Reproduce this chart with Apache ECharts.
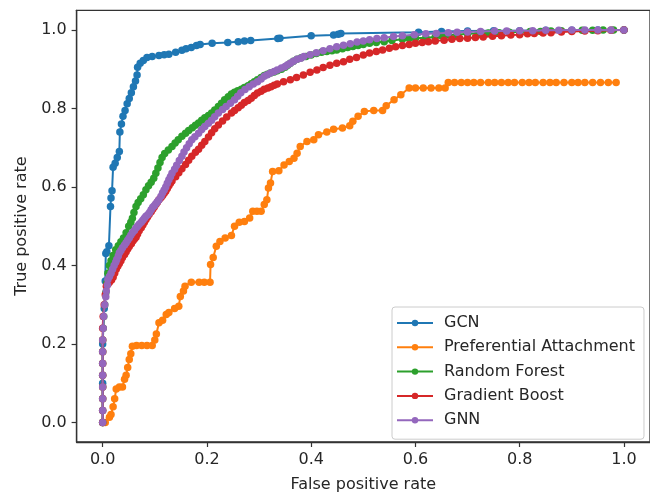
<!DOCTYPE html>
<html>
<head>
<meta charset="utf-8">
<script src="https://cdn.jsdelivr.net/npm/echarts@6/dist/echarts.min.js"></script>
<style>
html,body{margin:0;padding:0;background:#fff;}
#chart{width:650px;height:498px;}
</style>
</head>
<body>
<div id="chart"></div>
<script>
var seriesNames = ['GCN', 'Preferential Attachment', 'Random Forest', 'Gradient Boost', 'GNN'];
var xTicks = [0, 0.2, 0.4, 0.6, 0.8, 1.0];
var yTicks = [0, 0.2, 0.4, 0.6, 0.8, 1.0];
var xLabel = 'False positive rate';
var yLabel = 'True positive rate';

var gcn = [[0,0],[0,0.1],[0,0.2],[0.003,0.29],[0.005,0.36],[0.006,0.43],[0.008,0.435],[0.012,0.45],[0.015,0.55],[0.016,0.572],[0.018,0.59],[0.02,0.65],[0.024,0.66],[0.028,0.675],[0.032,0.69],[0.033,0.74],[0.036,0.76],[0.039,0.78],[0.043,0.795],[0.047,0.812],[0.051,0.825],[0.055,0.84],[0.059,0.855],[0.063,0.87],[0.066,0.885],[0.067,0.905],[0.072,0.915],[0.078,0.922],[0.085,0.93],[0.095,0.932],[0.108,0.935],[0.118,0.937],[0.127,0.938],[0.14,0.943],[0.152,0.948],[0.16,0.952],[0.17,0.955],[0.18,0.96],[0.187,0.963],[0.21,0.966],[0.24,0.968],[0.26,0.97],[0.272,0.972],[0.284,0.973],[0.336,0.978],[0.34,0.979],[0.4,0.985],[0.443,0.987],[0.452,0.989],[0.457,0.991],[0.606,0.994],[0.65,0.996],[0.7,0.997],[0.75,0.998],[0.8,0.998],[0.85,0.999],[0.9,0.999],[0.95,1.0],[1.0,1.0]];

var pa = [[0,0],[0.005,0],[0.013,0.013],[0.016,0.02],[0.02,0.04],[0.023,0.06],[0.026,0.085],[0.032,0.09],[0.038,0.09],[0.042,0.11],[0.045,0.12],[0.048,0.14],[0.051,0.16],[0.054,0.175],[0.057,0.194],[0.065,0.196],[0.075,0.196],[0.085,0.196],[0.095,0.196],[0.1,0.21],[0.103,0.225],[0.108,0.254],[0.115,0.26],[0.122,0.275],[0.127,0.28],[0.138,0.29],[0.146,0.296],[0.149,0.321],[0.155,0.335],[0.158,0.347],[0.17,0.357],[0.185,0.357],[0.195,0.357],[0.206,0.357],[0.207,0.402],[0.212,0.42],[0.218,0.449],[0.225,0.461],[0.235,0.47],[0.247,0.476],[0.253,0.5],[0.262,0.51],[0.272,0.512],[0.282,0.521],[0.288,0.538],[0.296,0.538],[0.304,0.538],[0.31,0.555],[0.315,0.567],[0.318,0.597],[0.322,0.61],[0.326,0.639],[0.338,0.641],[0.348,0.656],[0.358,0.665],[0.367,0.673],[0.373,0.686],[0.379,0.703],[0.392,0.716],[0.405,0.72],[0.414,0.733],[0.43,0.74],[0.443,0.747],[0.46,0.75],[0.474,0.756],[0.48,0.767],[0.49,0.78],[0.502,0.792],[0.52,0.795],[0.537,0.795],[0.544,0.807],[0.559,0.822],[0.572,0.835],[0.588,0.852],[0.6,0.852],[0.615,0.852],[0.63,0.852],[0.645,0.852],[0.657,0.852],[0.663,0.866],[0.675,0.866],[0.688,0.866],[0.7,0.866],[0.712,0.866],[0.725,0.866],[0.74,0.866],[0.752,0.866],[0.765,0.866],[0.778,0.866],[0.79,0.866],[0.805,0.866],[0.818,0.866],[0.83,0.866],[0.845,0.866],[0.858,0.866],[0.87,0.866],[0.885,0.866],[0.9,0.866],[0.912,0.866],[0.925,0.866],[0.94,0.866],[0.955,0.866],[0.97,0.866],[0.985,0.866]];

var rf = [[0,0],[0,0.03],[0,0.06],[0,0.09],[0,0.12],[0,0.15],[0,0.18],[0,0.21],[0.001,0.24],[0.002,0.27],[0.004,0.3],[0.006,0.33],[0.008,0.355],[0.01,0.38],[0.013,0.4],[0.016,0.412],[0.02,0.425],[0.025,0.44],[0.03,0.45],[0.035,0.46],[0.04,0.47],[0.045,0.483],[0.05,0.5],[0.054,0.51],[0.057,0.52],[0.06,0.535],[0.064,0.55],[0.068,0.56],[0.073,0.57],[0.078,0.58],[0.083,0.593],[0.088,0.603],[0.093,0.612],[0.098,0.622],[0.102,0.635],[0.106,0.648],[0.11,0.662],[0.114,0.675],[0.119,0.685],[0.126,0.694],[0.133,0.703],[0.139,0.712],[0.145,0.72],[0.152,0.729],[0.159,0.737],[0.165,0.744],[0.172,0.751],[0.178,0.757],[0.184,0.763],[0.19,0.77],[0.196,0.776],[0.203,0.782],[0.209,0.788],[0.215,0.796],[0.222,0.805],[0.228,0.813],[0.234,0.822],[0.241,0.83],[0.247,0.837],[0.253,0.841],[0.259,0.845],[0.266,0.849],[0.272,0.853],[0.279,0.858],[0.285,0.863],[0.291,0.868],[0.297,0.873],[0.304,0.879],[0.31,0.884],[0.316,0.887],[0.322,0.89],[0.329,0.893],[0.335,0.896],[0.343,0.9],[0.35,0.905],[0.355,0.91],[0.36,0.915],[0.366,0.92],[0.373,0.925],[0.381,0.929],[0.39,0.932],[0.4,0.936],[0.41,0.94],[0.42,0.943],[0.43,0.945],[0.44,0.947],[0.449,0.949],[0.46,0.952],[0.47,0.955],[0.48,0.958],[0.49,0.96],[0.5,0.963],[0.512,0.966],[0.525,0.968],[0.54,0.97],[0.555,0.973],[0.575,0.976],[0.588,0.978],[0.6,0.979],[0.62,0.98],[0.638,0.982],[0.65,0.985],[0.663,0.987],[0.68,0.988],[0.7,0.99],[0.72,0.991],[0.74,0.992],[0.76,0.993],[0.78,0.994],[0.8,0.995],[0.82,0.996],[0.84,0.996],[0.86,0.997],[0.88,0.998],[0.9,0.998],[0.92,0.999],[0.94,0.999],[0.96,1.0],[0.98,1.0],[1.0,1.0]];

var gb = [[0,0],[0,0.03],[0,0.06],[0,0.09],[0,0.12],[0,0.15],[0,0.18],[0,0.21],[0,0.24],[0.001,0.27],[0.003,0.3],[0.005,0.325],[0.007,0.347],[0.01,0.352],[0.013,0.357],[0.017,0.363],[0.02,0.37],[0.023,0.38],[0.026,0.39],[0.029,0.398],[0.032,0.405],[0.035,0.412],[0.038,0.42],[0.042,0.428],[0.045,0.435],[0.048,0.442],[0.051,0.448],[0.055,0.455],[0.058,0.462],[0.061,0.467],[0.064,0.472],[0.067,0.48],[0.07,0.488],[0.074,0.496],[0.077,0.503],[0.08,0.51],[0.083,0.517],[0.086,0.523],[0.089,0.53],[0.093,0.537],[0.096,0.543],[0.099,0.549],[0.102,0.555],[0.105,0.561],[0.108,0.567],[0.112,0.573],[0.115,0.578],[0.118,0.584],[0.121,0.589],[0.124,0.596],[0.127,0.603],[0.13,0.609],[0.133,0.615],[0.14,0.626],[0.146,0.636],[0.152,0.646],[0.159,0.657],[0.165,0.668],[0.171,0.678],[0.178,0.688],[0.184,0.696],[0.19,0.706],[0.196,0.716],[0.203,0.727],[0.209,0.738],[0.215,0.748],[0.222,0.758],[0.23,0.768],[0.238,0.778],[0.247,0.788],[0.253,0.795],[0.26,0.802],[0.266,0.808],[0.272,0.815],[0.279,0.82],[0.285,0.826],[0.291,0.833],[0.297,0.839],[0.304,0.844],[0.31,0.849],[0.317,0.852],[0.323,0.855],[0.329,0.859],[0.335,0.862],[0.347,0.868],[0.36,0.873],[0.372,0.879],[0.385,0.885],[0.398,0.892],[0.411,0.898],[0.423,0.904],[0.436,0.91],[0.449,0.915],[0.462,0.919],[0.474,0.925],[0.487,0.93],[0.5,0.936],[0.512,0.941],[0.525,0.945],[0.537,0.949],[0.55,0.953],[0.562,0.957],[0.575,0.96],[0.588,0.963],[0.6,0.966],[0.613,0.968],[0.625,0.97],[0.638,0.972],[0.655,0.974],[0.67,0.976],[0.685,0.978],[0.7,0.979],[0.715,0.981],[0.73,0.982],[0.748,0.984],[0.765,0.985],[0.783,0.987],[0.8,0.988],[0.815,0.99],[0.828,0.991],[0.845,0.992],[0.86,0.993],[0.88,0.995],[0.9,0.996],[0.925,0.997],[0.95,0.998],[0.975,0.999],[1.0,1.0]];

var gnn = [[0,0],[0,0.03],[0,0.06],[0,0.09],[0,0.12],[0,0.15],[0,0.18],[0,0.21],[0.001,0.24],[0.002,0.27],[0.004,0.3],[0.006,0.32],[0.007,0.335],[0.009,0.35],[0.01,0.364],[0.013,0.372],[0.016,0.38],[0.019,0.39],[0.022,0.4],[0.025,0.408],[0.027,0.415],[0.03,0.424],[0.032,0.432],[0.035,0.438],[0.038,0.445],[0.042,0.452],[0.045,0.458],[0.048,0.464],[0.051,0.47],[0.054,0.477],[0.057,0.483],[0.061,0.489],[0.064,0.495],[0.067,0.5],[0.07,0.505],[0.074,0.51],[0.077,0.515],[0.08,0.52],[0.083,0.525],[0.087,0.53],[0.09,0.535],[0.093,0.542],[0.096,0.548],[0.099,0.552],[0.102,0.557],[0.105,0.562],[0.108,0.567],[0.112,0.576],[0.115,0.585],[0.118,0.592],[0.121,0.6],[0.124,0.609],[0.127,0.618],[0.13,0.626],[0.133,0.635],[0.138,0.645],[0.142,0.655],[0.147,0.667],[0.152,0.678],[0.156,0.689],[0.161,0.7],[0.166,0.71],[0.171,0.72],[0.177,0.728],[0.184,0.737],[0.19,0.746],[0.196,0.754],[0.203,0.762],[0.209,0.77],[0.215,0.779],[0.222,0.788],[0.23,0.797],[0.237,0.805],[0.245,0.813],[0.253,0.822],[0.259,0.831],[0.265,0.84],[0.273,0.848],[0.281,0.855],[0.289,0.862],[0.297,0.868],[0.304,0.875],[0.31,0.882],[0.316,0.886],[0.322,0.89],[0.329,0.894],[0.335,0.898],[0.343,0.903],[0.35,0.907],[0.355,0.911],[0.36,0.915],[0.366,0.92],[0.373,0.925],[0.38,0.928],[0.386,0.932],[0.398,0.937],[0.41,0.942],[0.423,0.947],[0.436,0.952],[0.449,0.957],[0.462,0.961],[0.475,0.965],[0.488,0.969],[0.5,0.972],[0.512,0.975],[0.526,0.978],[0.54,0.98],[0.558,0.983],[0.575,0.985],[0.598,0.988],[0.62,0.99],[0.64,0.991],[0.663,0.993],[0.68,0.994],[0.7,0.995],[0.725,0.996],[0.752,0.997],[0.775,0.997],[0.8,0.998],[0.825,0.998],[0.85,0.999],[0.875,0.999],[0.9,1.0],[0.925,1.0],[0.95,1.0],[0.975,1.0],[1.0,1.0]];

var seriesData = [gcn, pa, rf, gb, gnn];
var colors = ['#1f77b4', '#ff7f0e', '#2ca02c', '#d62728', '#9467bd'];
var FONT = 'DejaVu Sans';

var chart = echarts.init(document.getElementById('chart'), null, {renderer: 'canvas'});

function fmt(v) { return Number(v).toFixed(1); }

var option = {
  animation: false,
  backgroundColor: '#ffffff',
  textStyle: {fontFamily: FONT},
  grid: {
    left: 76.6, top: 10.3, width: 580.8, height: 432.3,
    show: true, borderColor: '#333333', borderWidth: 1.3, backgroundColor: 'transparent'
  },
  xAxis: {
    type: 'value', min: -0.05, max: 1.05,
    splitLine: {show: false},
    axisLine: {show: true, onZero: false, lineStyle: {color: '#333333', width: 1.3}},
    axisTick: {show: true, inside: false, length: 5, lineStyle: {color: '#333333', width: 1.2}, customValues: xTicks},
    axisLabel: {show: true, color: '#262626', fontSize: 16, fontFamily: FONT, margin: 10, customValues: xTicks, formatter: fmt},
    name: xLabel, nameLocation: 'middle', nameGap: 35,
    nameTextStyle: {color: '#262626', fontSize: 16, fontFamily: FONT}
  },
  yAxis: {
    type: 'value', min: -0.05, max: 1.05,
    splitLine: {show: false},
    axisLine: {show: true, onZero: false, lineStyle: {color: '#333333', width: 1.3}},
    axisTick: {show: true, inside: false, length: 5, lineStyle: {color: '#333333', width: 1.2}, customValues: yTicks},
    axisLabel: {show: true, color: '#262626', fontSize: 16, fontFamily: FONT, margin: 10, customValues: yTicks, formatter: fmt},
    name: yLabel, nameLocation: 'middle', nameGap: 46, nameRotate: 90,
    nameTextStyle: {color: '#262626', fontSize: 16, fontFamily: FONT}
  },
  legend: {
    orient: 'vertical',
    left: 392, top: 307,
    padding: [8, 9, 11, 4],
    itemWidth: 36, itemHeight: 8, itemGap: 8.3,
    backgroundColor: 'rgba(255,255,255,0.85)',
    borderColor: '#cccccc', borderWidth: 1, borderRadius: 3,
    textStyle: {color: '#262626', fontSize: 16, fontFamily: FONT, padding: [0, 0, 0, 6]},
    data: seriesNames
  },
  series: seriesData.map(function (d, i) {
    return {
      name: seriesNames[i],
      type: 'line',
      data: d,
      color: colors[i],
      showSymbol: true,
      symbol: 'circle',
      symbolSize: 7.5,
      lineStyle: {width: 2, color: colors[i]},
      itemStyle: {color: colors[i]},
      clip: true,
      z: 2 + i
    };
  })
};
chart.setOption(option);
</script>
</body>
</html>
